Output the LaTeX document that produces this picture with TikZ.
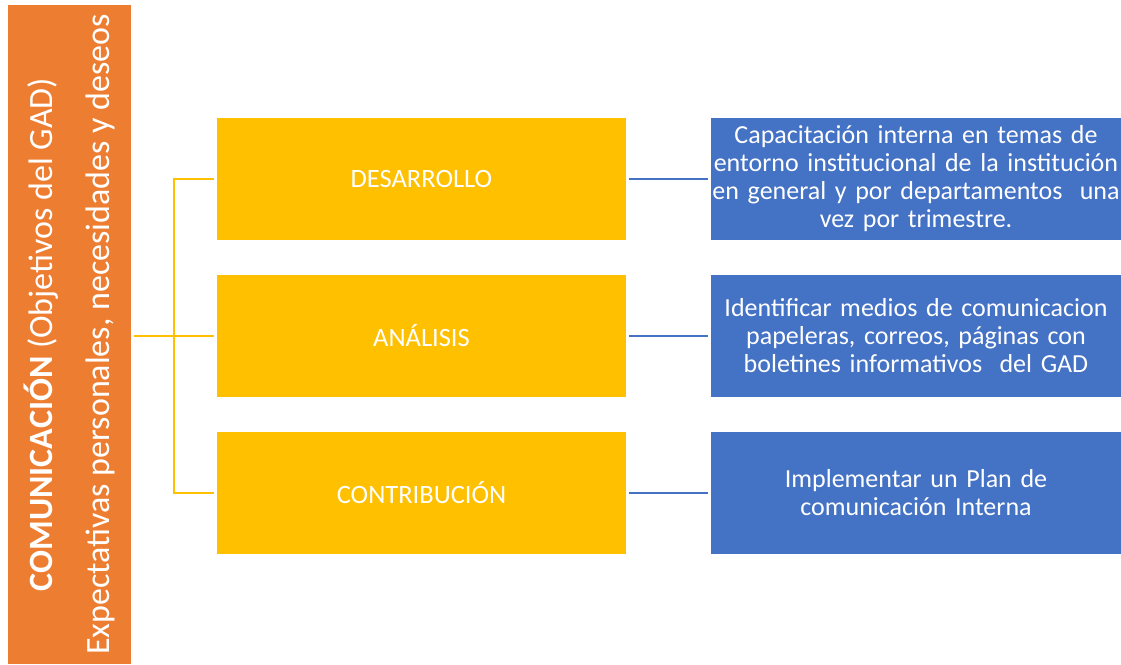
\documentclass[tikz,border=0pt]{standalone}
\usepackage{fontspec}
\setmainfont{Carlito}
\usetikzlibrary{positioning}
\definecolor{ComOrange}{RGB}{237,125,49}
\definecolor{ComGold}{RGB}{255,192,0}
\definecolor{ComBlue}{RGB}{68,114,196}

\begin{document}
\begin{tikzpicture}[x=1pt, y=-1pt, node distance=35pt]
  \tikzstyle{title} = [rectangle, fill=ComOrange, text=white, rotate=90, minimum width=659pt, minimum height=123pt, inner sep=0pt, outer sep=0pt, align=center, font=\fontsize{34}{57}\selectfont]
  \tikzstyle{stage} = [rectangle, fill=ComGold, text=white, minimum width=409pt, minimum height=122pt, inner sep=0pt, outer sep=0pt, font=\fontsize{26.5}{30}\selectfont]
  \tikzstyle{action} = [rectangle, fill=ComBlue, text=white, minimum width=410pt, minimum height=122pt, text width=410pt, align=center, inner sep=0pt, outer sep=0pt, font=\fontsize{26}{28}\selectfont]
  \tikzstyle{yline} = [draw=ComGold, line width=2pt, shorten <=3pt, shorten >=3pt]
  \tikzstyle{bline} = [draw=ComBlue, line width=2pt, shorten <=3pt, shorten >=3pt]

  \useasboundingbox (0,0) rectangle (1121,664);

  \node [title] (comm) at (69.5,334.5) {\textbf{COMUNICACIÓN} (Objetivos del GAD)\\Expectativas personales, necesidades y deseos};

  \node [stage] (desarrollo) at (421.5,179) {DESARROLLO};
  \node [stage, below=of desarrollo] (analisis) {ANÁLISIS};
  \node [stage, below=of analisis] (contribucion) {CONTRIBUCIÓN};

  \node [action, right=85pt of desarrollo] (capacitacion) {Capacitación interna en temas de\\entorno institucional de la institución\\en general y por departamentos\ \ una\\vez por trimestre.};
  \node [action, right=85pt of analisis] (medios) {Identificar medios de comunicacion\\papeleras, correos, páginas con\\boletines informativos\ \ del GAD};
  \node [action, right=85pt of contribucion] (plan) {Implementar un Plan de\\comunicación Interna};

  % tree lines
  \coordinate (hub) at (174,336);
  \draw [yline] (comm.south |- hub) -- (analisis.west);
  \draw [yline] (desarrollo.west) -| (hub) |- (contribucion.west);

  \path [bline] (desarrollo) -- (capacitacion);
  \path [bline] (analisis) -- (medios);
  \path [bline] (contribucion) -- (plan);
\end{tikzpicture}
\end{document}
